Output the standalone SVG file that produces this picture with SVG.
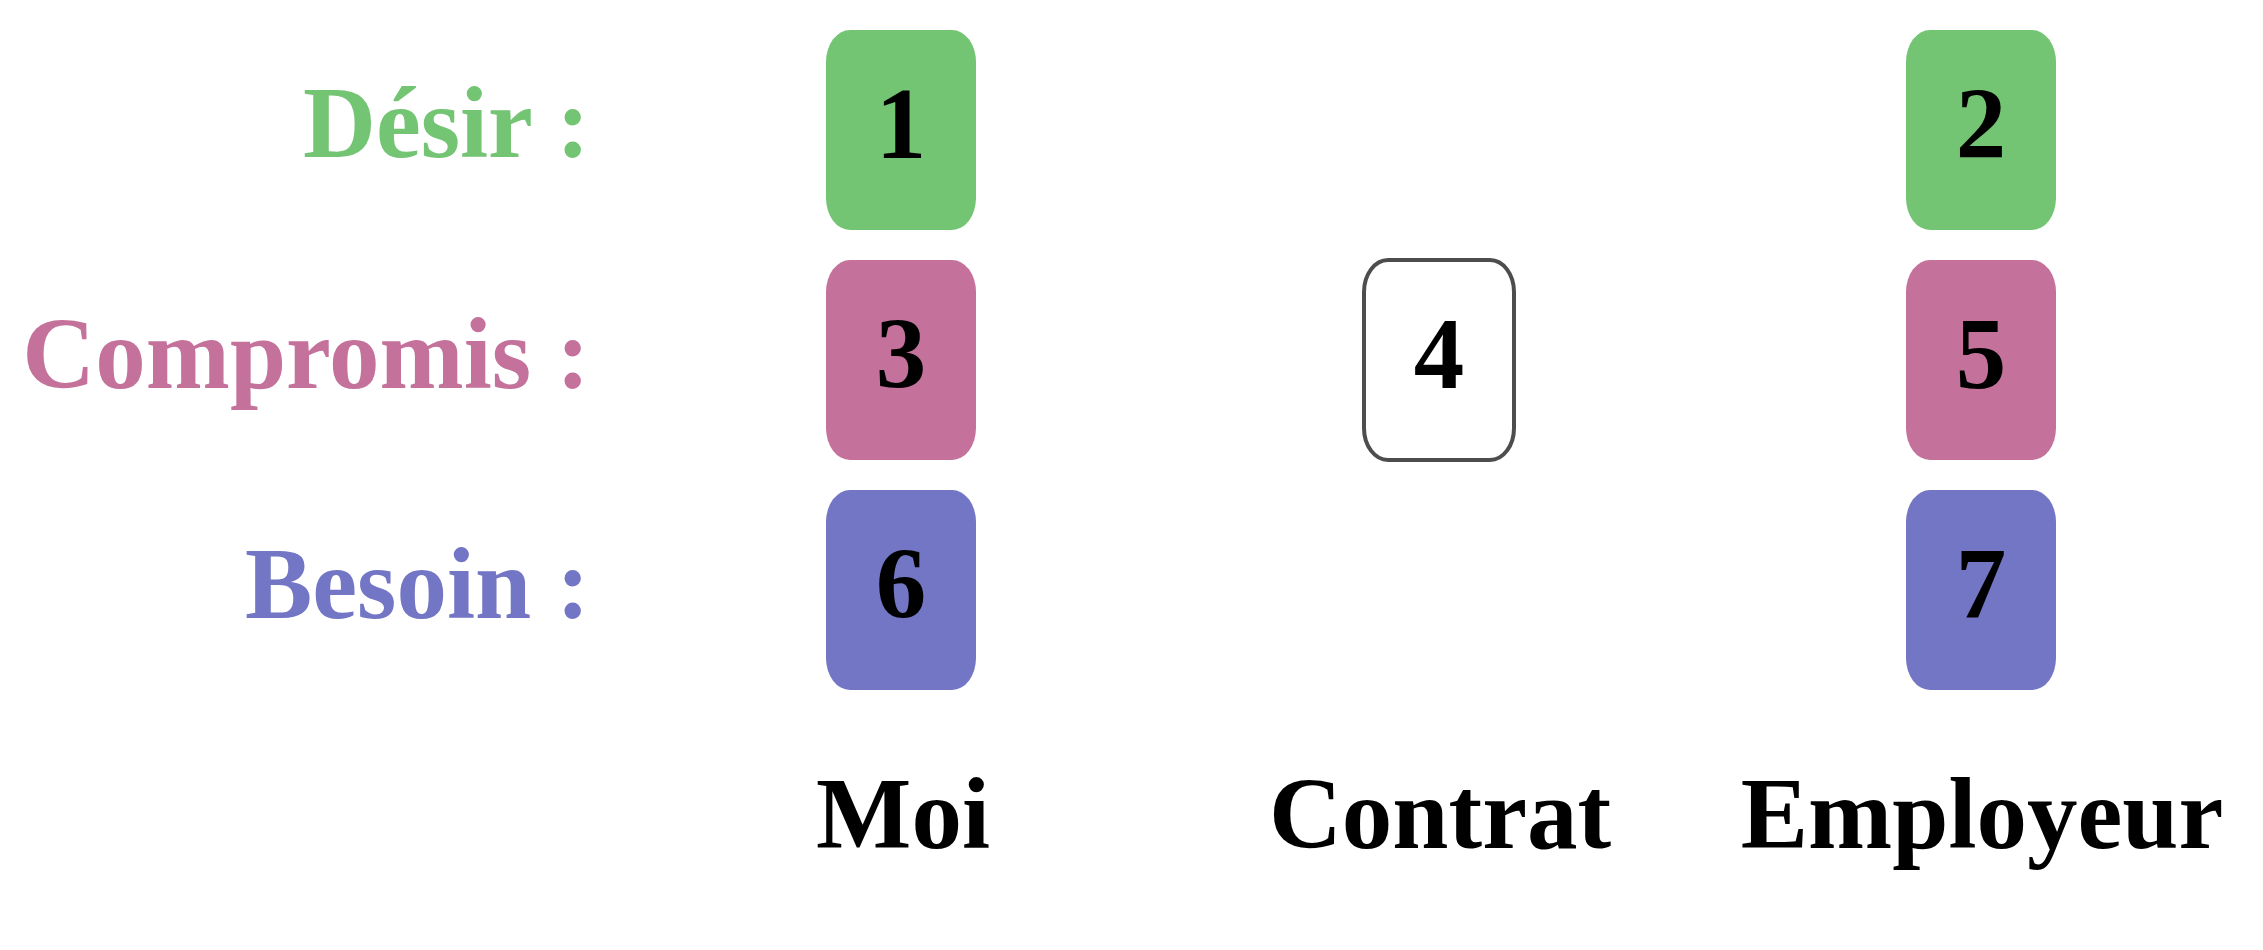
<svg xmlns="http://www.w3.org/2000/svg" width="2263" height="950" viewBox="0 0 2263 950">
<style>
text{font-family:"Liberation Serif","Times New Roman",serif;font-weight:bold;font-size:101px}
.num{text-anchor:middle;fill:#000}
.lbl{text-anchor:end}
.col{text-anchor:middle;fill:#000}
.g{fill:#73c473}
.p{fill:#c4729b}
.b{fill:#7276c4}
</style>
<rect width="2263" height="950" fill="#fff"/>
<g id="row-labels">
<text class="lbl g" x="590" y="157">Désir :</text>
<text class="lbl p" x="590" y="388">Compromis :</text>
<text class="lbl b" x="590" y="618">Besoin :</text>
</g>
<g id="node1"><rect class="g" x="826" y="30" width="150" height="200" rx="24" ry="32"/><text class="num" x="901" y="158">1</text></g>
<g id="node2"><rect class="g" x="1906" y="30" width="150" height="200" rx="24" ry="32"/><text class="num" x="1981" y="158">2</text></g>
<g id="node3"><rect class="p" x="826" y="260" width="150" height="200" rx="24" ry="32"/><text class="num" x="901" y="388">3</text></g>
<g id="node4"><rect x="1364" y="260" width="150" height="200" rx="24" ry="32" fill="#fff" stroke="#4d4d4d" stroke-width="4"/><text class="num" x="1439" y="388">4</text></g>
<g id="node5"><rect class="p" x="1906" y="260" width="150" height="200" rx="24" ry="32"/><text class="num" x="1981" y="388">5</text></g>
<g id="node6"><rect class="b" x="826" y="490" width="150" height="200" rx="24" ry="32"/><text class="num" x="901" y="618">6</text></g>
<g id="node7"><rect class="b" x="1906" y="490" width="150" height="200" rx="24" ry="32"/><text class="num" x="1981" y="618">7</text></g>
<g id="column-labels">
<text class="col" x="903" y="848">Moi</text>
<text class="col" x="1440" y="848">Contrat</text>
<text class="col" x="1982" y="848">Employeur</text>
</g>
<g id="connectors"/>
</svg>
